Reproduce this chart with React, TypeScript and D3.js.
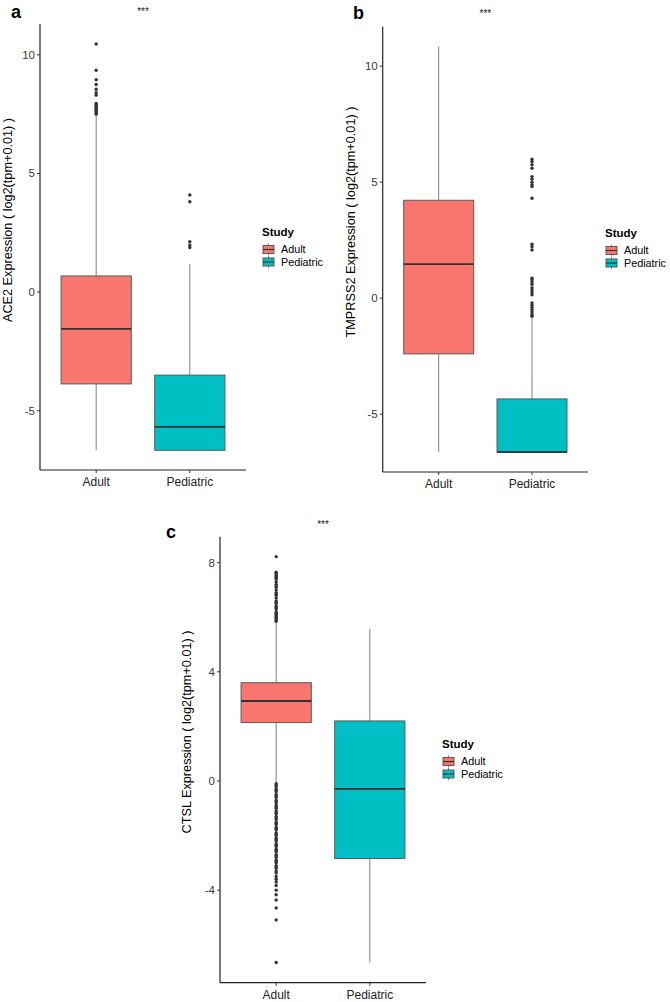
import React from "react";
import * as d3 from "d3";

const categories = ["Adult", "Pediatric"];
const colors = ["#F8766D", "#00BFC4"];

// Box statistics: lower whisker, Q1, median, Q3, upper whisker
const ace2Stats = [
  { lower: -6.67, q1: -3.87, median: -1.55, q3: 0.68, upper: 7.45 },
  { lower: -6.67, q1: -6.67, median: -5.68, q3: -3.5, upper: 1.18 },
];
const tmprss2Stats = [
  { lower: -6.63, q1: -2.4, median: 1.47, q3: 4.22, upper: 10.85 },
  { lower: -6.63, q1: -6.63, median: -6.63, q3: -4.34, upper: -0.85 },
];
const ctslStats = [
  { lower: -0.05, q1: 2.14, median: 2.93, q3: 3.6, upper: 5.8 },
  { lower: -6.65, q1: -2.84, median: -0.29, q3: 2.2, upper: 5.57 },
];

const ace2AdultOutliers = [10.46, 9.35, 8.95, 8.75, 8.55, 8.4, 8.3, 7.95, 7.9, 7.85, 7.8, 7.75, 7.7, 7.65, 7.6, 7.55, 7.5];
const ace2PediatricOutliers = [4.09, 3.81, 2.12, 1.98, 1.88];
const tmprss2AdultOutliers: number[] = [];
const tmprss2PediatricOutliers = [
  5.99, 5.89, 5.75, 5.6, 5.24, 5.13, 5.0, 4.88, 4.81, 4.31, 2.33, 2.22, 2.08,
  0.86, 0.79, 0.7, 0.6, 0.45, 0.35, 0.25, 0.15, -0.2, -0.3, -0.4, -0.5, -0.6, -0.7, -0.78,
];
const ctslAdultOutliers = [
  8.22, 7.65, 7.6, 7.55, 7.5, 7.45, 7.4, 7.3, 7.2, 7.15, 7.1, 7.0, 6.9, 6.85, 6.8, 6.7, 6.6, 6.55, 6.5,
  6.4, 6.35, 6.3, 6.2, 6.15, 6.1, 6.05, 6.0, 5.95, 5.9, 5.85,
  -0.1, -0.15, -0.2, -0.3, -0.35, -0.4, -0.5, -0.55, -0.6, -0.7, -0.75, -0.8, -0.9, -0.95, -1.0,
  -1.1, -1.15, -1.2, -1.3, -1.35, -1.4, -1.5, -1.55, -1.6, -1.7, -1.75, -1.8, -1.9, -1.95, -2.0,
  -2.1, -2.15, -2.2, -2.3, -2.35, -2.4, -2.5, -2.55, -2.6, -2.7, -2.75, -2.8, -2.9, -2.95, -3.0,
  -3.1, -3.15, -3.2, -3.3, -3.37, -3.5, -3.6, -3.7, -3.83, -4.0, -4.17, -4.36, -4.65, -5.09, -6.65,
];
const ctslPediatricOutliers: number[] = [];

const ace2Ticks = [-5, 0, 5, 10];
const tmprss2Ticks = [-5, 0, 5, 10];
const ctslTicks = [-4, 0, 4, 8];

const FONT = "Liberation Sans, Arial, Helvetica, sans-serif";

type Stat = { lower: number; q1: number; median: number; q3: number; upper: number };

type PanelCfg = {
  tag: string;
  tagPos: [number, number];
  sigY: number;
  ylab: string;
  ylabX: number;
  ylabY: number;
  frame: { left: number; right: number; top: number; bottom: number };
  domain: [number, number];
  ticks: number[];
  stats: Stat[];
  outliers: number[][];
  legend: [number, number];
};

function Panel({ cfg }: { cfg: PanelCfg }) {
  const { frame } = cfg;
  const x = d3.scalePoint<string>().domain(categories).range([frame.left, frame.right]).padding(0.6);
  const y = d3.scaleLinear().domain(cfg.domain).range([frame.bottom, frame.top]);
  const step = x.step();
  const bw = step * 0.75;
  const midX = (frame.left + frame.right) / 2;
  return (
    <g>
      <text x={cfg.tagPos[0]} y={cfg.tagPos[1]} fontFamily={FONT} fontWeight="bold" fontSize={18} fill="#000">
        {cfg.tag}
      </text>
      <text x={midX} y={cfg.sigY} fontFamily={FONT} fontSize={10} textAnchor="middle" fill="#222">
        ***
      </text>
      {categories.map((c, i) => {
        const s = cfg.stats[i];
        const cx = x(c) as number;
        return (
          <g key={c}>
            <line x1={cx} x2={cx} y1={y(s.q3)} y2={y(s.upper)} stroke="#7f7f7f" strokeWidth={1} />
            <line x1={cx} x2={cx} y1={y(s.q1)} y2={y(s.lower)} stroke="#7f7f7f" strokeWidth={1} />
            <rect
              x={cx - bw / 2}
              y={y(s.q3)}
              width={bw}
              height={y(s.q1) - y(s.q3)}
              fill={colors[i]}
              stroke="#5a5a5a"
              strokeWidth={1}
            />
            <line x1={cx - bw / 2} x2={cx + bw / 2} y1={y(s.median)} y2={y(s.median)} stroke="#333" strokeWidth={1.8} />
            {cfg.outliers[i].map((v, j) => (
              <circle key={j} cx={cx} cy={y(v)} r={1.7} fill="#333" />
            ))}
          </g>
        );
      })}
      <line x1={frame.left} x2={frame.left} y1={frame.top} y2={frame.bottom} stroke="#222" strokeWidth={1.2} />
      <line x1={frame.left} x2={frame.right} y1={frame.bottom} y2={frame.bottom} stroke="#222" strokeWidth={1.2} />
      {cfg.ticks.map((t) => (
        <g key={t}>
          <line x1={frame.left - 3} x2={frame.left} y1={y(t)} y2={y(t)} stroke="#333" strokeWidth={1} />
          <text
            x={frame.left - 5}
            y={y(t)}
            dy="0.35em"
            textAnchor="end"
            fontFamily={FONT}
            fontSize={11.5}
            fill="#3a3a3a"
          >
            {t}
          </text>
        </g>
      ))}
      {categories.map((c) => (
        <g key={c}>
          <line x1={x(c)} x2={x(c)} y1={frame.bottom} y2={frame.bottom + 3} stroke="#333" strokeWidth={1} />
          <text x={x(c)} y={frame.bottom + 16} textAnchor="middle" fontFamily={FONT} fontSize={12} fill="#222">
            {c}
          </text>
        </g>
      ))}
      <text
        transform={`translate(${cfg.ylabX},${cfg.ylabY}) rotate(-90)`}
        textAnchor="middle"
        fontFamily={FONT}
        fontSize={12.7}
        fill="#000"
      >
        {cfg.ylab}
      </text>
      <g transform={`translate(${cfg.legend[0]},${cfg.legend[1]})`}>
        <text x={0} y={4} fontFamily={FONT} fontWeight="bold" fontSize={11.5} fill="#000">
          Study
        </text>
        {categories.map((c, i) => {
          const ky = 17.5 + i * 12.5;
          return (
            <g key={c}>
              <line x1={6.5} x2={6.5} y1={ky - 6} y2={ky + 6} stroke="#7f7f7f" strokeWidth={1} />
              <rect x={1} y={ky - 4} width={11} height={8} fill={colors[i]} stroke="#5a5a5a" strokeWidth={1} />
              <line x1={1} x2={12} y1={ky} y2={ky} stroke="#333" strokeWidth={1.2} />
              <text x={19} y={ky} dy="0.35em" fontFamily={FONT} fontSize={10.8} fill="#000">
                {c}
              </text>
            </g>
          );
        })}
      </g>
    </g>
  );
}

const panels: PanelCfg[] = [
  {
    tag: "a",
    tagPos: [11, 18],
    sigY: 14.5,
    ylab: "ACE2 Expression ( log2(tpm+0.01) )",
    ylabX: 12,
    ylabY: 220,
    frame: { left: 40, right: 246, top: 24, bottom: 470 },
    domain: [-7.5, 11.3],
    ticks: ace2Ticks,
    stats: ace2Stats,
    outliers: [ace2AdultOutliers, ace2PediatricOutliers],
    legend: [262, 232],
  },
  {
    tag: "b",
    tagPos: [353, 18.5],
    sigY: 17,
    ylab: "TMPRSS2 Expression ( log2(tpm+0.01) )",
    ylabX: 354.5,
    ylabY: 222,
    frame: { left: 382.7, right: 588, top: 26.7, bottom: 472 },
    domain: [-7.49, 11.7],
    ticks: tmprss2Ticks,
    stats: tmprss2Stats,
    outliers: [tmprss2AdultOutliers, tmprss2PediatricOutliers],
    legend: [605, 233],
  },
  {
    tag: "c",
    tagPos: [166, 537.5],
    sigY: 528,
    ylab: "CTSL Expression ( log2(tpm+0.01) )",
    ylabX: 190.5,
    ylabY: 732,
    frame: { left: 220, right: 426, top: 536.7, bottom: 982.7 },
    domain: [-7.39, 8.95],
    ticks: ctslTicks,
    stats: ctslStats,
    outliers: [ctslAdultOutliers, ctslPediatricOutliers],
    legend: [442, 744],
  },
];

export default function App() {
  return (
    <svg
      width={670}
      height={1002}
      viewBox="0 0 670 1002"
      style={{ position: "absolute", left: 0, top: 0, background: "#fff" }}
    >
      <rect width={670} height={1002} fill="#fff" />
      {panels.map((p) => (
        <Panel key={p.tag} cfg={p} />
      ))}
    </svg>
  );
}
